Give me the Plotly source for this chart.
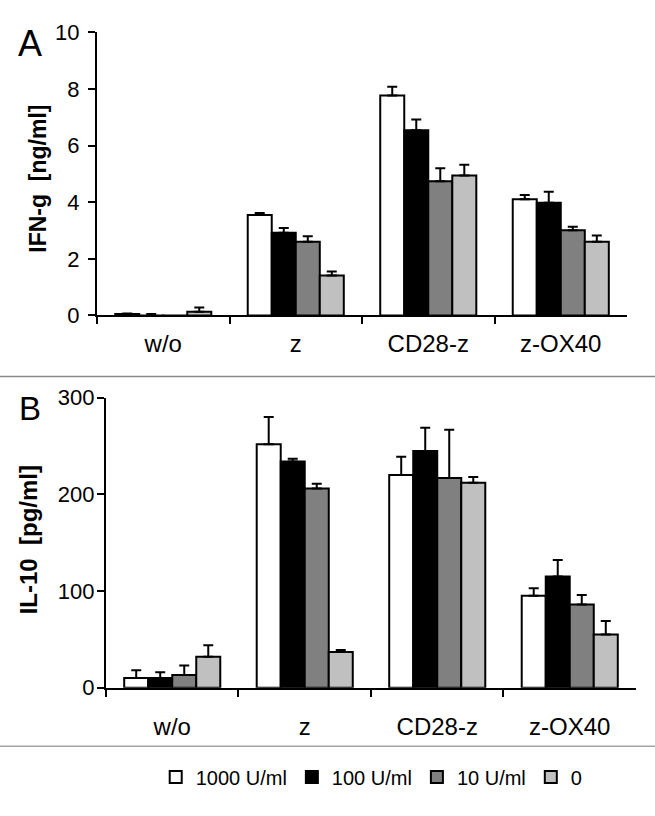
import plotly.graph_objects as go

categories = ["w/o", "z", "CD28-z", "z-OX40"]
series_names = ["1000 U/ml", "100 U/ml", "10 U/ml", "0"]
series_colors = ["#ffffff", "#000000", "#808080", "#c0c0c0"]

# Panel A: IFN-g [ng/ml]
ifn_1000 = [0.05, 3.55, 7.77, 4.10]
ifn_100 = [-0.03, 2.92, 6.54, 3.98]
ifn_10 = [-0.05, 2.60, 4.74, 3.01]
ifn_0 = [0.13, 1.41, 4.94, 2.60]
ifn_err_1000 = [0.02, 0.07, 0.31, 0.15]
ifn_err_100 = [0.08, 0.17, 0.38, 0.39]
ifn_err_10 = [0.02, 0.20, 0.46, 0.12]
ifn_err_0 = [0.15, 0.14, 0.38, 0.22]

# Panel B: IL-10 [pg/ml]
il_1000 = [10, 252, 220, 95]
il_100 = [10, 234, 245, 115]
il_10 = [13, 206, 217, 86]
il_0 = [32, 37, 212, 55]
il_err_1000 = [8, 28, 19, 8]
il_err_100 = [6, 3, 24, 17]
il_err_10 = [10, 5, 50, 10]
il_err_0 = [12, 2, 6, 14]

ifn_vals = [ifn_1000, ifn_100, ifn_10, ifn_0]
ifn_errs = [ifn_err_1000, ifn_err_100, ifn_err_10, ifn_err_0]
il_vals = [il_1000, il_100, il_10, il_0]
il_errs = [il_err_1000, il_err_100, il_err_10, il_err_0]

FONT = "Liberation Sans, Arial, sans-serif"

fig = go.Figure()
for i, name in enumerate(series_names):
    fig.add_trace(go.Bar(
        x=categories, y=ifn_vals[i], name=name,
        marker=dict(color=series_colors[i], line=dict(color="black", width=2)),
        error_y=dict(type="data", array=ifn_errs[i], arrayminus=[0] * 4,
                     symmetric=False, color="black", thickness=2, width=5),
        xaxis="x", yaxis="y", showlegend=True, legendgroup=name,
    ))
for i, name in enumerate(series_names):
    fig.add_trace(go.Bar(
        x=categories, y=il_vals[i], name=name,
        marker=dict(color=series_colors[i], line=dict(color="black", width=2)),
        error_y=dict(type="data", array=il_errs[i], arrayminus=[0] * 4,
                     symmetric=False, color="black", thickness=2, width=5),
        xaxis="x2", yaxis="y2", showlegend=False, legendgroup=name,
    ))

xcommon = dict(type="category", tickson="boundaries", ticks="outside", ticklen=7,
               tickwidth=2, tickcolor="black", showline=True, linecolor="black",
               linewidth=2, showgrid=False, zeroline=False,
               tickfont=dict(size=24, color="black", family=FONT))
ycommon = dict(ticks="outside", ticklen=7, tickwidth=2, tickcolor="black",
               showline=True, linecolor="black", linewidth=2, showgrid=False,
               zeroline=False, tickfont=dict(size=22, color="black", family=FONT))

fig.update_layout(
    width=655, height=816,
    margin=dict(l=0, r=0, t=0, b=0),
    paper_bgcolor="white", plot_bgcolor="white",
    font=dict(family=FONT, color="black"),
    barmode="group", bargap=0.275, bargroupgap=0,
    xaxis=dict(domain=[0.1481, 0.9573], anchor="y", ticklabelstandoff=6, **xcommon),
    yaxis=dict(domain=[0.6164, 0.9743], anchor="x", range=[0, 10], tickvals=[0, 2, 4, 6, 8, 10],
               ticklabelstandoff=4, **ycommon),
    xaxis2=dict(domain=[0.1618, 0.9710], anchor="y2", ticklabelstandoff=17, **xcommon),
    yaxis2=dict(domain=[0.1458, 0.5123], anchor="x2", range=[0, 300], tickvals=[0, 100, 200, 300],
                ticklabelstandoff=-2, **ycommon),
    legend=dict(orientation="h", x=0.5675, xanchor="center", y=0.033, yanchor="middle",
                font=dict(size=20, color="black", family=FONT), traceorder="normal",
                bgcolor="rgba(0,0,0,0)"),
    shapes=[
        dict(type="line", xref="paper", yref="paper", x0=0, x1=1,
             y0=(816 - 376) / 816, y1=(816 - 376) / 816,
             line=dict(color="#8a8a8a", width=1.5)),
        dict(type="line", xref="paper", yref="paper", x0=0, x1=1,
             y0=(816 - 757.5) / 816, y1=(816 - 757.5) / 816,
             line=dict(color="#a3a3a3", width=1.5)),
    ],
    annotations=[
        dict(text="A", x=30 / 655, y=(816 - 33) / 816, xref="paper", yref="paper",
             showarrow=False, font=dict(size=36, color="black", family=FONT),
             xanchor="center", yanchor="middle"),
        dict(text="B", x=30 / 655, y=(816 - 409) / 816, xref="paper", yref="paper",
             showarrow=False, font=dict(size=33, color="black", family=FONT),
             xanchor="center", yanchor="middle"),
        dict(text="<b>IFN-g&nbsp;&nbsp;[ng/ml]</b>", x=38 / 655, y=(816 - 172) / 816,
             xref="paper", yref="paper", showarrow=False, textangle=-90,
             font=dict(size=23, color="black", family=FONT),
             xanchor="center", yanchor="middle"),
        dict(text="<b>IL-10&nbsp;&nbsp;[pg/ml]</b>", x=28 / 655, y=(816 - 545) / 816,
             xref="paper", yref="paper", showarrow=False, textangle=-90,
             font=dict(size=24, color="black", family=FONT),
             xanchor="center", yanchor="middle"),
    ],
)

fig.write_html("out.html", config={"displayModeBar": False},
               post_script="document.body.style.margin='0';")
